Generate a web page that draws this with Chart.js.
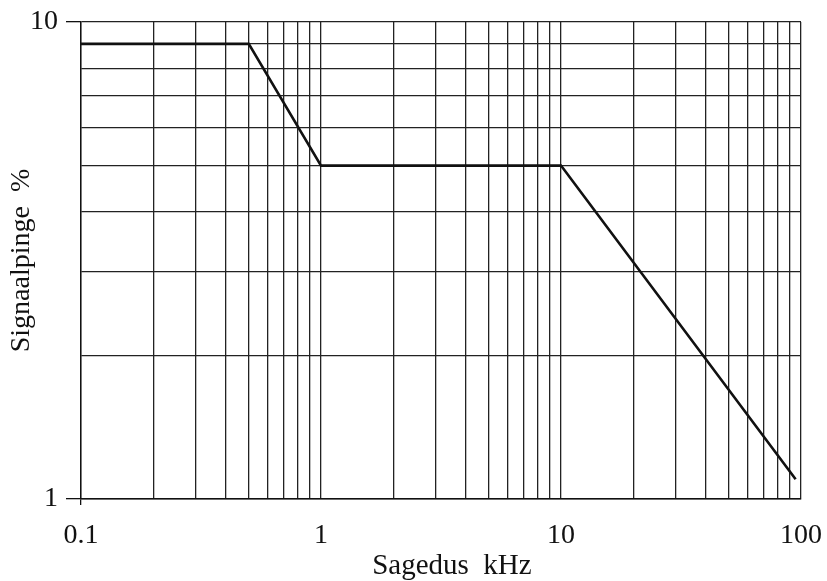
<!DOCTYPE html>
<html>
<head>
<meta charset="utf-8">
<script src="https://cdn.jsdelivr.net/npm/chart.js@4.4.1/dist/chart.umd.min.js"></script>
<style>
  html, body { margin: 0; padding: 0; background: #fff; }
  #wrap { width: 827px; height: 581px; }
</style>
</head>
<body>
<div id="wrap"><canvas id="signalChart" width="827" height="581"></canvas></div>
<script>
// frequency (kHz) and signal level (%) of the curve break points
const freqKHz = [0.1, 0.5, 1, 10, 95];
const signalPct = [9, 9, 5, 5, 1.1];

// grid lines and the labelled ticks
const xGrid = [0.1, 0.2, 0.3, 0.4, 0.5, 0.6, 0.7, 0.8, 0.9,
               1, 2, 3, 4, 5, 6, 7, 8, 9,
               10, 20, 30, 40, 50, 60, 70, 80, 90, 100];
const xLabels = [0.1, 1, 10, 100];
const yGrid = [1, 2, 3, 4, 5, 6, 7, 8, 9, 10];
const yLabels = [1, 10];

const serif = "'Liberation Serif', 'DejaVu Serif', serif";
const gridColor = "#222";

const points = freqKHz.map((f, i) => ({ x: f, y: signalPct[i] }));

const ctx = document.getElementById("signalChart").getContext("2d");
new Chart(ctx, {
    type: "line",
    data: {
        datasets: [
            {
                data: points,
                borderColor: "#111",
                borderWidth: 2.6,
                pointRadius: 0,
                tension: 0,
                fill: false,
            },
        ],
    },
    options: {
        responsive: false,
        animation: false,
        layout: { padding: 0 },
        plugins: { legend: { display: false }, tooltip: { enabled: false } },
        scales: {
            x: {
                type: "logarithmic",
                min: 0.1,
                max: 100,
                afterBuildTicks: (scale) => {
                    scale.ticks = xGrid.map((v) => ({ value: v }));
                },
                afterFit: (scale) => {
                    scale.height = 82;
                    scale.paddingLeft = 0;
                    scale.paddingRight = 26;
                },
                ticks: {
                    autoSkip: false,
                    maxRotation: 0,
                    padding: 14,
                    color: "#111",
                    font: { family: serif, size: 28 },
                    callback: (value) => (xLabels.includes(value) ? String(value) : ""),
                },
                grid: {
                    color: gridColor,
                    lineWidth: 1.3,
                    tickLength: 6,
                    tickColor: (c) => (c.tick && c.tick.value === 0.1 ? "#111" : "rgba(0,0,0,0)"),
                },
                border: { color: "#111", width: 1.4 },
                title: {
                    display: true,
                    // leading spaces push the title a little right, as in the original
                    text: "   Sagedus  kHz",
                    color: "#111",
                    font: { family: serif, size: 29, lineHeight: 1 },
                    padding: { top: 0, bottom: 0 },
                },
            },
            y: {
                type: "logarithmic",
                min: 1,
                max: 10,
                afterBuildTicks: (scale) => {
                    scale.ticks = yGrid.map((v) => ({ value: v }));
                },
                afterFit: (scale) => {
                    scale.width = 81;
                    scale.paddingTop = 22;
                    scale.paddingBottom = 0;
                },
                ticks: {
                    autoSkip: false,
                    padding: 8,
                    color: "#111",
                    font: { family: serif, size: 28 },
                    callback: (value) => (yLabels.includes(value) ? String(value) : ""),
                },
                grid: {
                    color: gridColor,
                    lineWidth: 1.3,
                    tickLength: 15,
                    tickColor: (c) => (c.tick && yLabels.includes(c.tick.value) ? "#111" : "rgba(0,0,0,0)"),
                },
                border: { color: "#111", width: 1.4 },
                title: {
                    display: true,
                    text: "Signaalpinge  %",
                    color: "#111",
                    font: { family: serif, size: 28, lineHeight: 1 },
                    padding: { top: 8, bottom: 0 },
                },
            },
        },
    },
});
</script>
</body>
</html>
